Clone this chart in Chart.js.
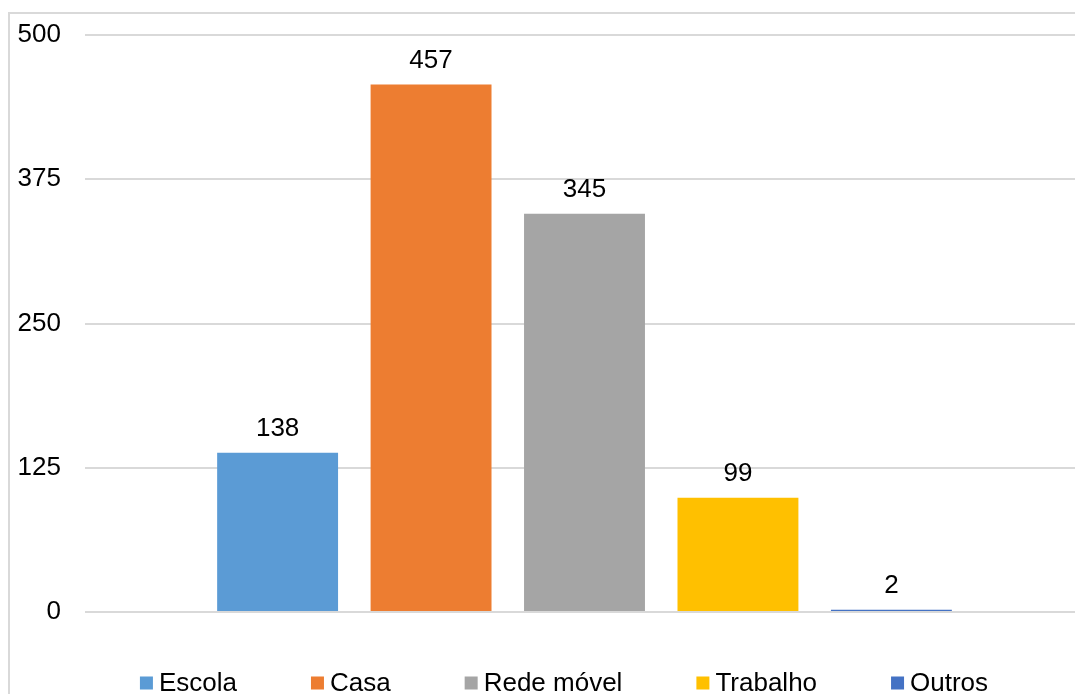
<!DOCTYPE html>
<html>
<head>
<meta charset="utf-8">
<script src="https://cdn.jsdelivr.net/npm/chart.js@4.4.0/dist/chart.umd.min.js"></script>
<style>
  html, body { margin: 0; padding: 0; background: #fff; overflow: hidden; width: 1075px; height: 694px; }
  #frame { position: absolute; left: 8px; top: 12px; border: 2px solid #d9d9d9; width: 1108px; height: 720px; }
  canvas { display: block; }
</style>
</head>
<body>
<div id="frame"><canvas id="c" width="1108" height="720"></canvas></div>
<script>
const categories = [''];
const seriesNames = ['Escola', 'Casa', 'Rede móvel', 'Trabalho', 'Outros'];
const seriesValues = [138, 457, 345, 99, 2];
const seriesColors = ['#5B9BD5', '#ED7D31', '#A5A5A5', '#FFC000', '#4472C4'];
const yTicks = [0, 125, 250, 375, 500];

const FONT = '"Liberation Sans", Arial, sans-serif';

const dataLabels = {
  id: 'dataLabels',
  afterDatasetsDraw(chart) {
    const ctx = chart.ctx;
    ctx.save();
    ctx.font = '26px ' + FONT;
    ctx.fillStyle = '#000';
    ctx.textAlign = 'center';
    ctx.textBaseline = 'alphabetic';
    chart.data.datasets.forEach((ds, i) => {
      const meta = chart.getDatasetMeta(i);
      meta.data.forEach((el, j) => {
        ctx.fillText(String(ds.data[j]), el.x, el.y - 17);
      });
    });
    ctx.restore();
  }
};

const bottomLegend = {
  id: 'bottomLegend',
  afterDraw(chart) {
    const ctx = chart.ctx;
    ctx.save();
    ctx.font = '26px ' + FONT;
    const box = 13, textGap = 6, itemGap = 74;
    const items = chart.data.datasets.map(ds => ({ text: ds.label, color: ds.backgroundColor, w: ctx.measureText(ds.label).width }));
    let total = 0;
    items.forEach((it, i) => { total += box + textGap + it.w + (i < items.length - 1 ? itemGap : 0); });
    let x = chart.width / 2 - total / 2;
    const cy = 669;
    ctx.textBaseline = 'middle';
    ctx.textAlign = 'left';
    items.forEach(it => {
      ctx.fillStyle = it.color;
      ctx.fillRect(x, cy - box / 2, box, box);
      ctx.fillStyle = '#000';
      ctx.fillText(it.text, x + box + textGap, cy + 1);
      x += box + textGap + it.w + itemGap;
    });
    ctx.restore();
  }
};

const datasets = seriesNames.map((name, i) => ({
  label: name,
  data: [seriesValues[i]],
  backgroundColor: seriesColors[i],
  borderWidth: 0,
  barPercentage: 0.788,
  categoryPercentage: 0.768
}));

new Chart(document.getElementById('c'), {
  type: 'bar',
  data: { labels: categories, datasets },
  options: {
    responsive: false,
    animation: false,
    layout: { padding: { left: 8, right: 34, top: 21, bottom: 122 } },
    plugins: { legend: { display: false }, tooltip: { enabled: false } },
    scales: {
      x: { display: false },
      y: {
        min: 0, max: 500,
        afterBuildTicks(scale) { scale.ticks = yTicks.map(v => ({ value: v })); },
        afterFit(scale) { scale.width = 67; scale.paddingTop = 10; scale.paddingBottom = 10; },
        ticks: { font: { family: FONT, size: 26 }, color: '#000', padding: 24 },
        grid: { color: '#d9d9d9', lineWidth: 2, drawTicks: false },
        border: { display: false }
      }
    }
  },
  plugins: [dataLabels, bottomLegend]
});
</script>
</body>
</html>
